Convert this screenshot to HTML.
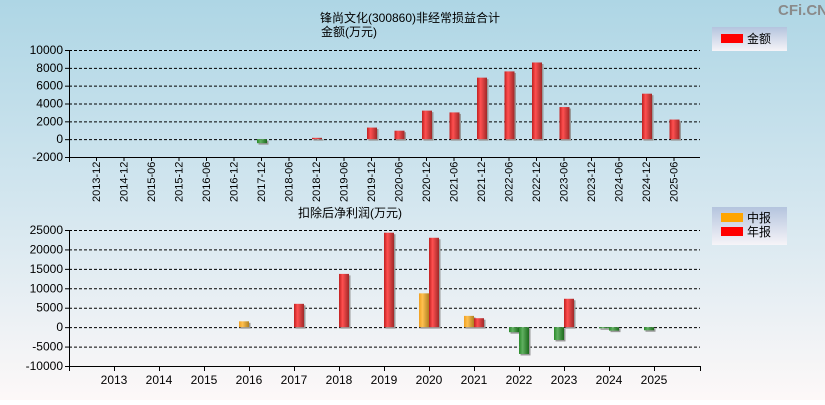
<!DOCTYPE html>
<html><head><meta charset="utf-8"><style>
body{margin:0;width:825px;height:400px;overflow:hidden;font-family:"Liberation Sans","Noto Sans CJK SC",sans-serif}
svg text{font-family:"Liberation Sans","Noto Sans CJK SC",sans-serif}
</style></head><body>
<svg id="c" width="825" height="400" xmlns="http://www.w3.org/2000/svg">
<defs>
<linearGradient id="bg" x1="0" y1="0" x2="0" y2="1"><stop offset="0" stop-color="#aed6e5"/><stop offset="0.5" stop-color="#d3e6ef"/><stop offset="1" stop-color="#fdf8f8"/></linearGradient>
<linearGradient id="lg" x1="0" y1="0" x2="0" y2="1"><stop offset="0" stop-color="#b4c4de"/><stop offset="1" stop-color="#f6f4f8"/></linearGradient>
<linearGradient id="gr" x1="0" x2="1"><stop offset="0" stop-color="#c02020"/><stop offset="0.35" stop-color="#ff5050"/><stop offset="1" stop-color="#a02828"/></linearGradient>
<linearGradient id="gg" x1="0" x2="1"><stop offset="0" stop-color="#2a8a2a"/><stop offset="0.35" stop-color="#60b060"/><stop offset="1" stop-color="#1c6a1c"/></linearGradient>
<linearGradient id="go" x1="0" x2="1"><stop offset="0" stop-color="#f0a020"/><stop offset="0.35" stop-color="#ffc050"/><stop offset="1" stop-color="#b08020"/></linearGradient>
</defs>
<rect width="825" height="400" fill="url(#bg)"/>
<text x="778" y="15" font-size="15" font-weight="bold" fill="#8a8a8a">CFi.CN</text>
<text x="410" y="22" font-size="12" text-anchor="middle">锋尚文化(300860)非经常损益合计</text>
<text x="349" y="36" font-size="12" text-anchor="middle">金额(万元)</text>
<text x="350" y="217" font-size="12" text-anchor="middle">扣除后净利润(万元)</text>
<g>
<rect x="712" y="27" width="75" height="24" fill="url(#lg)"/>
<rect x="721" y="34" width="22" height="9" fill="#f00"/>
<text x="747" y="43" font-size="12">金额</text>
</g>
<g>
<rect x="712" y="207" width="75" height="38" fill="url(#lg)"/>
<rect x="721" y="213" width="22" height="9" fill="#ffa500"/>
<text x="747" y="222" font-size="12">中报</text>
<rect x="721" y="227" width="22" height="9" fill="#f00"/>
<text x="747" y="236" font-size="12">年报</text>
</g>
<g id="top"></g><g id="bot"></g>
</svg>
<script>
const topCats=["2013-12","2014-12","2015-06","2015-12","2016-06","2016-12","2017-12","2018-06","2018-12","2019-06","2019-12","2020-06","2020-12","2021-06","2021-12","2022-06","2022-12","2023-06","2023-12","2024-06","2024-12","2025-06"];
const topVals=[0,0,0,0,0,0,-450,0,150,0,1300,950,3200,3000,6900,7600,8600,3600,0,0,5100,2200];
const topTicks=[10000,8000,6000,4000,2000,0,-2000];
const botYears=["2013","2014","2015","2016","2017","2018","2019","2020","2021","2022","2023","2024","2025"];
const botHalf=[0,0,0,1500,0,0,0,8700,2900,-1300,-3300,-300,-800];
const botAnnual=[0,0,0,0,6000,13700,24300,23000,2300,-6900,7300,-900,0];
const botTicks=[25000,20000,15000,10000,5000,0,-5000,-10000];
const NS="http://www.w3.org/2000/svg";
function mk(p,t,a,txt){const e=document.createElementNS(NS,t);for(const k in a)e.setAttribute(k,a[k]);if(txt!==undefined)e.textContent=txt;p.appendChild(e);return e;}
function axes(g,x0,x1,yTop,yBot,ticks){
 const mx=ticks[0],mn=ticks[ticks.length-1];
 const y=v=>yTop+(mx-v)/(mx-mn)*(yBot-yTop);
 ticks.forEach(t=>{
  if(t!==mn){const l=mk(g,'line',{x1:x0,x2:x1,y1:y(t)+.5,y2:y(t)+.5,stroke:'#000','stroke-dasharray':'3,2'});
  
  }
  mk(g,'line',{x1:x0-4,x2:x0,y1:y(t)+.5,y2:y(t)+.5,stroke:'#000'});
  const tx=mk(g,'text',{x:x0-6,y:y(t)+4,'font-size':12,'text-anchor':'end'},String(t));
  
  
 });
 mk(g,'line',{x1:x0+.5,x2:x0+.5,y1:yTop,y2:yBot+5,stroke:'#000'});
 mk(g,'line',{x1:x0,x2:x1,y1:yBot+.5,y2:yBot+.5,stroke:'#000'});
 return y;
}
function bar(g,x,w,y0,y1,pos,alt,name){
 const top=Math.min(y0,y1),h=Math.max(1,Math.abs(y1-y0));
 mk(g,'rect',{x:x+1.5,y:top+1.5,width:w,height:h,fill:'#999'});
 const r=mk(g,'rect',{x:x,y:top,width:w,height:h,fill:pos?(alt?'url(#go)':'url(#gr)'):'url(#gg)'});
 
 
}
// top chart
const gt=document.getElementById('top');
const yt=axes(gt,69,700,50,157,topTicks);
const tx=i=>96+i*27.5;
topCats.forEach((c,i)=>{
 const x=tx(i);
 mk(gt,'line',{x1:x+.5,x2:x+.5,y1:157,y2:161,stroke:'#000'});
 const t=mk(gt,'text',{transform:`translate(${x+4},202) rotate(-90)`,'font-size':11},c);
 
 
 if(topVals[i]!==0)bar(gt,x-4,10,yt(0),yt(topVals[i]),topVals[i]>0,false,'bar-'+c);
});
// bottom chart
const gb=document.getElementById('bot');
const yb=axes(gb,69,700,230,366,botTicks);
const bx=i=>114+i*45;
mk(gb,'line',{x1:700.5,x2:700.5,y1:366,y2:371,stroke:'#000'});
botYears.forEach((c,i)=>{
 const x=bx(i);
 mk(gb,'line',{x1:x+.5,x2:x+.5,y1:366,y2:371,stroke:'#000'});
 const t=mk(gb,'text',{x:x,y:384,'font-size':12,'text-anchor':'middle'},c);
 
 
 if(botHalf[i]!==0)bar(gb,x-10,10,yb(0),yb(botHalf[i]),botHalf[i]>0,true,'half-bar-'+c);
 if(botAnnual[i]!==0)bar(gb,x,10,yb(0),yb(botAnnual[i]),botAnnual[i]>0,false,'annual-bar-'+c);
});
</script>
</body></html>
